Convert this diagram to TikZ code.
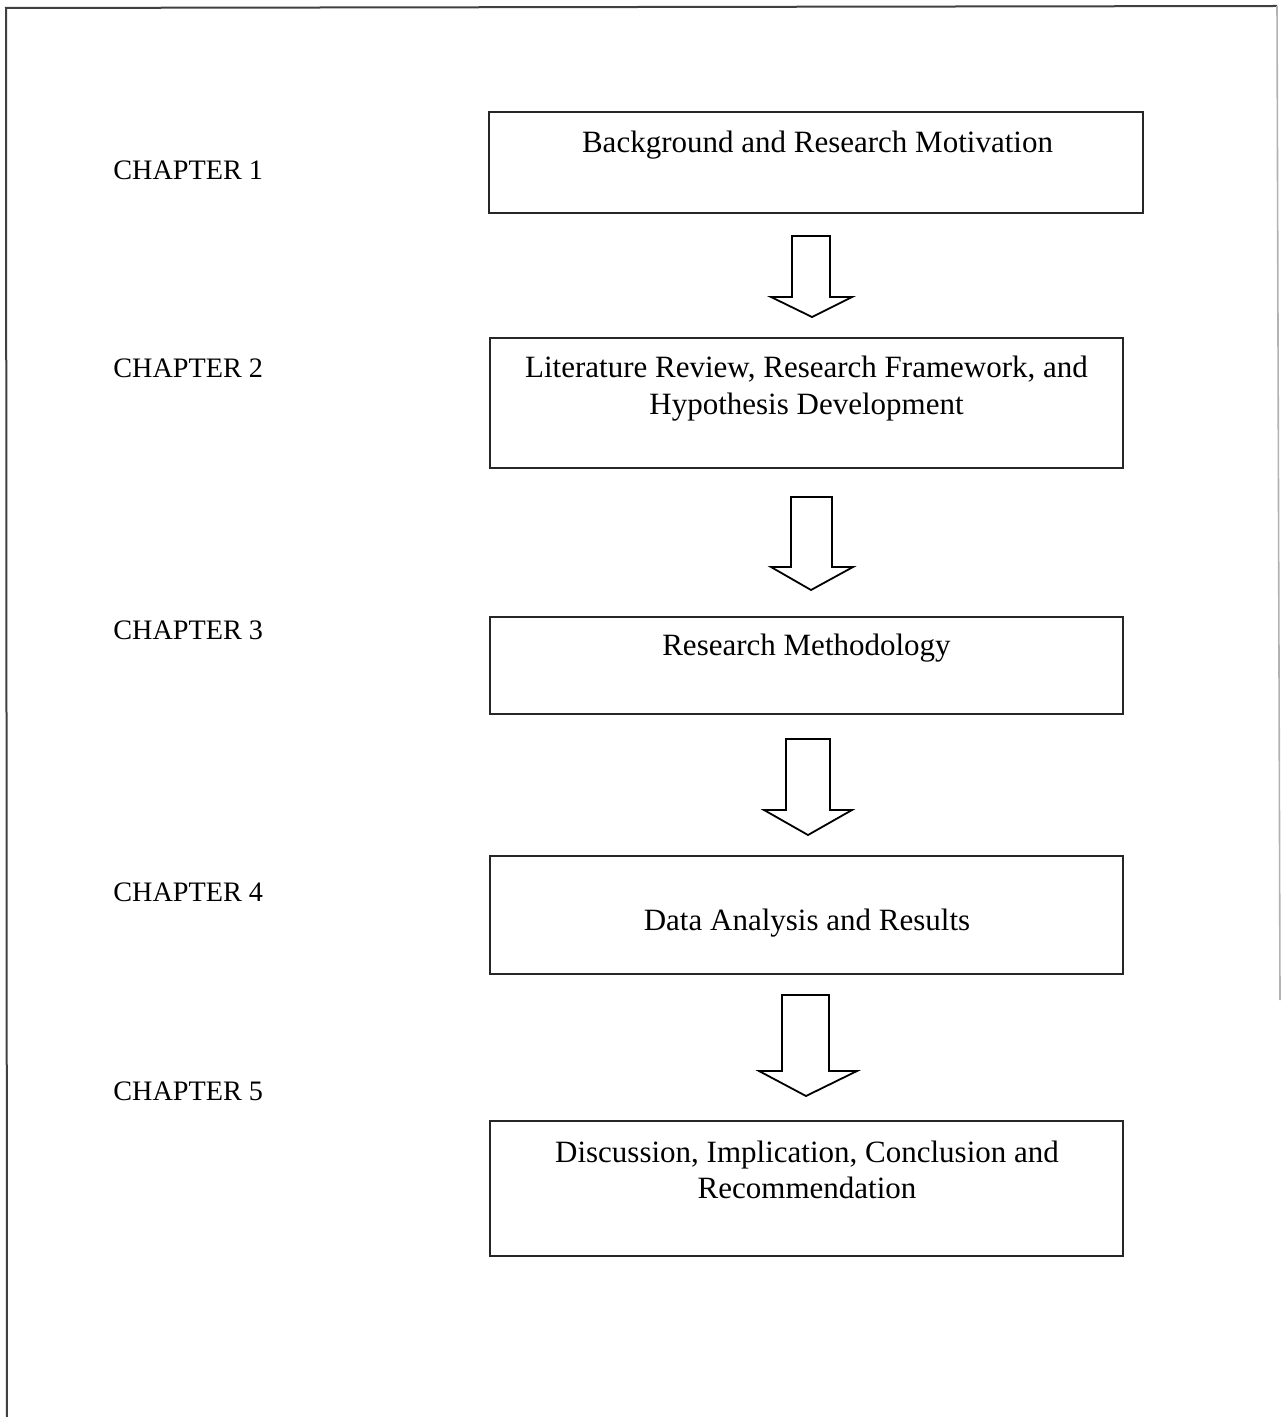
\documentclass[tikz,border=0pt]{standalone}
\usepackage{fontspec}
\setmainfont{Liberation Serif}
\begin{document}
\begin{tikzpicture}[x=0.5pt,y=-0.5pt,
  box/.style={draw=black!85,line width=0.9pt,inner sep=0pt,outer sep=0pt,minimum width=316.5pt},
  boxtxt/.style={anchor=base,inner sep=0pt,font=\fontsize{15.5}{18}\selectfont},
  chap/.style={anchor=base west,inner sep=0pt,font=\fontsize{14.1}{17}\selectfont},
  blockarrow/.style={draw=black,line width=0.9pt,fill=white,line join=miter}]
\useasboundingbox (0,0) rectangle (1282,1417);
% frame
\draw[line width=1pt,black!75] (1277,6) -- (6,8) -- (7,1417);
\draw[line width=0.8pt,black!30] (1277,6) -- (1280,1000);
% boxes
\node[box,minimum width=327pt,minimum height=50.5pt] (b1) at (816,162.5) {};
\node[box,minimum height=65pt] (b2) at (806.5,403) {};
\node[box,minimum height=48.5pt] (b3) at (806.5,665.5) {};
\node[box,minimum height=59pt] (b4) at (806.5,915) {};
\node[box,minimum height=67.5pt] (b5) at (806.5,1188.5) {};
% box texts
\node[boxtxt] (t1) at (817.5,153) {Background and Research Motivation};
\node[boxtxt] (t2a) at (806.5,378) {Literature Review, Research Framework, and};
\node[boxtxt] (t2b) at (806.5,414) {Hypothesis Development};
\node[boxtxt] (t3) at (806.5,655) {Research Methodology};
\node[boxtxt] (t4) at (807,930) {Data Analysis and Results};
\node[boxtxt] (t5a) at (807,1162) {Discussion, Implication, Conclusion and};
\node[boxtxt] (t5b) at (807,1198) {Recommendation};
% chapter labels
\node[chap] (c1) at (113,180) {CHAPTER 1};
\node[chap] (c2) at (113,377) {CHAPTER 2};
\node[chap] (c3) at (113,639) {CHAPTER 3};
\node[chap] (c4) at (113,901) {CHAPTER 4};
\node[chap] (c5) at (113,1100) {CHAPTER 5};
% block arrows
\draw[blockarrow] (792,236) -- (830,236) -- (830,297) -- (852,297) -- (812,317) -- (771,297) -- (792,297) -- cycle;
\draw[blockarrow] (791,497) -- (832,497) -- (832,567) -- (853,567) -- (811,590) -- (771,567) -- (791,567) -- cycle;
\draw[blockarrow] (786,739) -- (830,739) -- (830,810) -- (852,810) -- (808,835) -- (764,810) -- (786,810) -- cycle;
\draw[blockarrow] (782,995) -- (829,995) -- (829,1071) -- (857,1071) -- (806,1096) -- (759,1071) -- (782,1071) -- cycle;
\end{tikzpicture}
\end{document}
